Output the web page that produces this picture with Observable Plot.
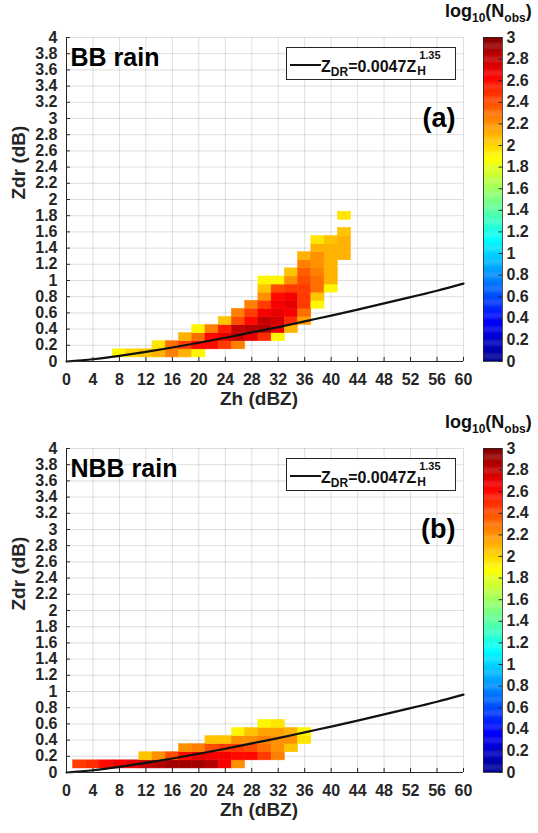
<!DOCTYPE html>
<html>
<head>
<meta charset="utf-8">
<script src="https://cdn.jsdelivr.net/npm/d3@7"></script>
<script src="https://cdn.jsdelivr.net/npm/@observablehq/plot@0.6"></script>
<style>
  html, body { margin: 0; padding: 0; background: #fff; }
  body { width: 538px; height: 833px; position: relative; overflow: hidden;
         font-family: "Liberation Sans", Arial, sans-serif; color: #262626; }
  .panel { position: absolute; left: 0; width: 538px; height: 420px; }
  .panel svg { position: absolute; top: 0; }
  .leg { position: absolute; left: 286px; top: 47px; width: 170px; height: 33px; box-sizing: border-box;
         border: 1px solid #262626; background: #fff; }
  .leg .ln { position: absolute; left: 3px; top: 16px; width: 31px; height: 0; border-top: 2px solid #111; }
  .leg .lt { position: absolute; left: 34px; top: 11px; font-size: 16px; line-height: 16px; font-weight: bold;
             white-space: nowrap; color: #111; }
  .leg .sb { font-size: 12px; position: relative; top: 4px; }
  .leg .stack { display: inline-block; position: relative; width: 24px; height: 10px; margin-left: 1px; }
  .leg .up { position: absolute; left: 2px; top: -12px; font-size: 11px; line-height: 11px; }
  .leg .dn { position: absolute; left: 0; top: 3px; font-size: 12px; line-height: 12px; }
  .cbt { position: absolute; left: 445px; top: 2px; font-size: 18px; line-height: 18px; font-weight: bold;
         white-space: nowrap; color: #111; }
  .cbt .s { font-size: 12px; position: relative; top: 5px; }
</style>
</head>
<body>
<script>
// ---------- data ----------
const xTicks = [0, 4, 8, 12, 16, 20, 24, 28, 32, 36, 40, 44, 48, 52, 56, 60];
const yTicks = [0, 0.2, 0.4, 0.6, 0.8, 1, 1.2, 1.4, 1.6, 1.8, 2, 2.2, 2.4, 2.6, 2.8, 3, 3.2, 3.4, 3.6, 3.8, 4];
const cbTicks = [0, 0.2, 0.4, 0.6, 0.8, 1, 1.2, 1.4, 1.6, 1.8, 2, 2.2, 2.4, 2.6, 2.8, 3];

// fitted relation Z_DR = 0.0047 Z_H^1.35 as drawn
const curveZh  = [0, 4, 8, 12, 16, 20, 24, 28, 32, 36, 40, 44, 48, 52, 56, 60];
const curveZdr = [0, 0.028, 0.070, 0.119, 0.173, 0.231, 0.293, 0.359, 0.425, 0.496, 0.567, 0.641, 0.717, 0.794, 0.874, 0.962];

// 2-D histogram, bins 2 dBZ x 0.1 dB; each row: Zdr centre, first Zh centre, log10(Nobs) values
const bbRowZdr   = [0.1, 0.2, 0.3, 0.4, 0.5, 0.6, 0.7, 0.8, 0.9, 1.0, 1.1, 1.2, 1.3, 1.4, 1.5, 1.6, 1.8];
const bbRowStart = [8, 14, 18, 20, 24, 26, 28, 30, 30, 30, 34, 36, 36, 38, 38, 42, 42];
const bbRowLogN  = [
  [1.9, 2.0, 2.05, 2.1, 2.25, 2.1, 1.9],
  [1.95, 2.3, 2.45, 2.6, 2.6, 2.45, 2.25],
  [2.1, 2.3, 2.6, 2.7, 2.8, 2.7, 2.5, 1.9],
  [1.9, 2.25, 2.55, 2.8, 2.85, 2.85, 2.7, 2.1],
  [2.05, 2.4, 2.6, 2.8, 2.75, 2.5, 2.15],
  [2.25, 2.45, 2.65, 2.7, 2.65, 2.3],
  [2.25, 2.45, 2.65, 2.7, 2.45, 1.9],
  [2.2, 2.6, 2.65, 2.45, 2.05],
  [2.05, 2.4, 2.45, 2.45, 2.3, 1.9],
  [1.9, 1.9, 2.2, 2.4, 2.3, 2.1],
  [2.05, 2.35, 2.25, 2.1],
  [2.25, 2.2, 2.1],
  [2.1, 2.2, 2.1, 2.1],
  [2.1, 2.1, 2.1],
  [1.95, 2.05, 2.1],
  [2.05],
  [1.95]
];

const nbbRowZdr   = [0.1, 0.2, 0.3, 0.4, 0.5, 0.6];
const nbbRowStart = [2, 12, 18, 22, 26, 30];
const nbbRowLogN  = [
  [2.45, 2.5, 2.6, 2.65, 2.7, 2.8, 2.85, 2.9, 2.9, 2.9, 2.85, 2.65, 2.2],
  [2.05, 2.2, 2.4, 2.6, 2.7, 2.65, 2.65, 2.6, 2.6, 2.45, 2.25],
  [2.2, 2.25, 2.4, 2.45, 2.45, 2.4, 2.3, 2.2, 2.05],
  [2.05, 2.05, 2.2, 2.2, 2.25, 2.2, 2.2, 1.95],
  [1.9, 2.05, 2.15, 2.15, 2.1, 1.9],
  [1.9, 1.95]
];

// jet colour map
const jetDomain = [0, 0.375, 1.125, 1.875, 2.625, 3];
const jetRange  = ["#00008f", "#0000ff", "#00ffff", "#ffff00", "#ff0000", "#800000"];

// ---------- drawing ----------
const colorScale = {type: "linear", domain: jetDomain, range: jetRange, interpolate: "rgb", clamp: true};
const svgStyle = {fontFamily: '"Liberation Sans", Arial, sans-serif', fontSize: "16px", fontWeight: "bold",
                  color: "#262626", background: "transparent", overflow: "visible"};
const fmt = d3.format("~g");
const binW = 2, binH = 0.1;

function makePanel(rowZdr, rowStart, rowLogN, name, tag, top) {
  const cells = rowZdr.flatMap((z, i) => rowLogN[i].map((v, j) => ({zh: rowStart[i] + binW * j, zdr: z, v})));
  const div = document.createElement("div");
  div.className = "panel";
  div.style.top = top + "px";
  document.body.appendChild(div);

  const main = Plot.plot({
    width: 480, height: 420,
    marginLeft: 66, marginRight: 17, marginTop: 37, marginBottom: 59,
    style: svgStyle,
    x: {domain: [0, 60]},
    y: {domain: [0, 4]},
    color: colorScale,
    marks: [
      Plot.gridX(xTicks, {stroke: "#000", strokeOpacity: 0.13}),
      Plot.gridY(yTicks, {stroke: "#000", strokeOpacity: 0.13}),
      Plot.rect(cells, {x1: d => d.zh - binW / 2, x2: d => d.zh + binW / 2,
                        y1: d => d.zdr - binH / 2, y2: d => d.zdr + binH / 2,
                        fill: "v", stroke: "v", strokeWidth: 0.5}),
      Plot.line(curveZh, {x: d => d, y: curveZdr, curve: "natural", stroke: "#111", strokeWidth: 2.2}),
      Plot.ruleX([0], {stroke: "#262626", strokeWidth: 1}),
      Plot.ruleY([0], {stroke: "#262626", strokeWidth: 1}),
      Plot.ruleX(xTicks, {x: d => d, y1: 0, y2: 0.05, stroke: "#262626"}),
      Plot.ruleY(yTicks, {y: d => d, x1: 0, x2: 0.6, stroke: "#262626"}),
      Plot.axisX(xTicks, {tickSize: 0, tickPadding: 12, label: null, tickFormat: fmt}),
      Plot.axisY(yTicks, {tickSize: 0, tickPadding: 9, label: null, tickFormat: fmt}),
      Plot.text(["Zh (dBZ)"], {text: d => d, frameAnchor: "bottom", dy: 43, dx: -6, fontSize: 19, fontWeight: "bold", fill: "#262626"}),
      Plot.text(["Zdr (dB)"], {text: d => d, frameAnchor: "left", dx: -48, rotate: -90, fontSize: 19, fontWeight: "bold", fill: "#262626"}),
      Plot.text([name], {text: d => d, frameAnchor: "top-left", textAnchor: "start", lineAnchor: "top", dx: 4, dy: 11, fontSize: 25, fontWeight: "bold", fill: "#000"}),
      Plot.text([tag], {text: d => d, frameAnchor: "top-right", textAnchor: "end", lineAnchor: "top", dx: -8, dy: 70, fontSize: 27, fontWeight: "bold", fill: "#000"})
    ]
  });
  main.style.left = "0px";
  div.appendChild(main);

  const step = 0.01;
  const ramp = d3.range(0, 3, step);
  const bar = Plot.plot({
    width: 55, height: 420,
    marginLeft: 0, marginRight: 36, marginTop: 37, marginBottom: 59,
    style: svgStyle,
    x: {domain: [0, 1], axis: null},
    y: {domain: [0, 3]},
    color: colorScale,
    marks: [
      Plot.rect(ramp, {x1: 0, x2: 1, y1: d => d, y2: d => Math.min(3, d + step * 1.3), fill: d => d + step / 2}),
      Plot.ruleY(cbTicks, {y: d => d, x1: 0.82, x2: 1, stroke: "#262626"}),
      Plot.frame({stroke: "#262626", strokeWidth: 0.8}),
      Plot.axisY(cbTicks, {anchor: "right", tickSize: 0, tickPadding: 4, label: null, tickFormat: fmt})
    ]
  });
  bar.style.left = "483px";
  div.appendChild(bar);

  const leg = document.createElement("div");
  leg.className = "leg";
  leg.innerHTML = '<span class="ln"></span><span class="lt">Z<span class="sb">DR</span>=0.0047Z' +
                  '<span class="stack"><span class="up">1.35</span><span class="dn">H</span></span></span>';
  div.appendChild(leg);

  const cbt = document.createElement("div");
  cbt.className = "cbt";
  cbt.innerHTML = 'log<span class="s">10</span>(N<span class="s">obs</span>)';
  div.appendChild(cbt);
}

makePanel(bbRowZdr, bbRowStart, bbRowLogN, "BB rain", "(a)", 0);
makePanel(nbbRowZdr, nbbRowStart, nbbRowLogN, "NBB rain", "(b)", 411);
</script>
</body>
</html>
